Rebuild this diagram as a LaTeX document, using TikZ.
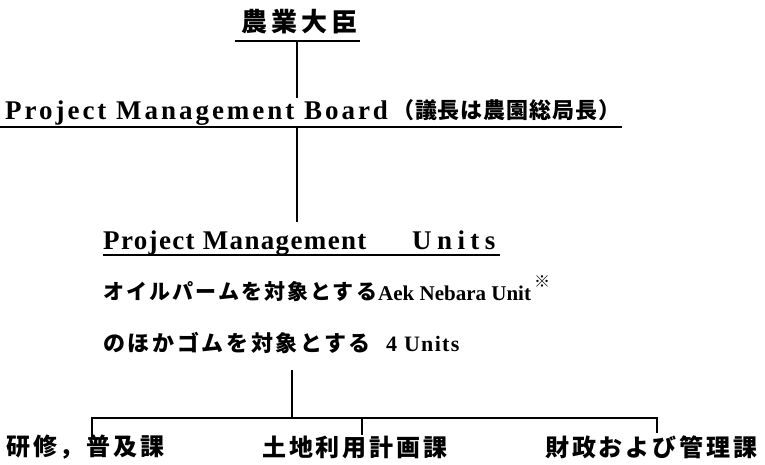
\documentclass[tikz,border=0pt]{standalone}
\usepackage{fontspec}
\setmainfont{Liberation Serif}
\newfontfamily\jp{Noto Sans CJK JP}[LetterSpace=12]
\newfontfamily\lat{Liberation Serif}
\newcommand{\lsp}[1]{\addfontfeatures{LetterSpace=#1}}
\begin{document}
\begin{tikzpicture}[x=1pt,y=-1pt,
  jt/.style={font=\jp\bfseries\fontsize{#1}{#1}\selectfont, inner sep=0pt, anchor=west},
  jt/.default=24,
  lt/.style={font=\lat\bfseries\fontsize{#1}{#1}\selectfont, inner sep=0pt, anchor=base west},
  lt/.default=27,
  rule/.style={line width=1.8pt},
  ulrule/.style={line width=1.6pt}]
\useasboundingbox (0,0) rectangle (765,465);
% row 1
\node[jt=26] (minister) at (241,22) {\lsp{16}農業大臣};
\draw[ulrule] (235,41) -- (360,41);
\coordinate (minUL) at (297,41);
% row 2
\node[lt] (board) at (5,120) {\lsp{11}Project Management Board};
\node[jt=22] (boardjp) at (392,110) {\lsp{4}（議長は農園総局長）};
\draw[ulrule] (0,127) -- (622,127);
\coordinate (boardTop) at (297,98);
\coordinate (boardUL) at (297,127);
\draw[rule] (minUL) -- (boardTop);
% row 3
\node[lt] (pmu) at (103,249) {\lsp{5}Project Management};
\node[lt] (units) at (412,249) {\lsp{20}Units};
\draw[ulrule] (103,255) -- (500,255);
\coordinate (pmuTop) at (297,222);
\draw[rule] (boardUL) -- (pmuTop);
% row 4
\node[jt=21] (oil) at (103,292) {\lsp{10}オイルパームを対象とする};
\node[lt=21] (aek) at (378,300) {\lsp{0}Aek Nebara Unit};
\node[jt=16, anchor=center] (mark) at (542,282) {※};
% row 5
\node[jt=22] (rubber) at (103,343) {\lsp{12}のほかゴムを対象とする};
\node[lt=22] (four) at (386,351) {\lsp{6}4 Units};
% bracket
\coordinate (stemTop) at (292,370);
\coordinate (stemBot) at (292,418);
\coordinate (bl) at (92,418);
\coordinate (bm) at (362,418);
\coordinate (br) at (657,418);
\coordinate (blEnd) at (92,437);
\coordinate (bmEnd) at (362,435);
\coordinate (brEnd) at (657,433);
\draw[rule] (stemTop) -- (stemBot);
\draw[rule] (blEnd) -- (bl) -- (br) -- (brEnd);
\draw[rule] (bm) -- (bmEnd);
% bottom labels
\node[jt] (train) at (6,447) {研修，普及課};
\node[jt] (land) at (262,447) {土地利用計画課};
\node[jt] (fin) at (545,447) {財政および管理課};
\end{tikzpicture}
\end{document}
